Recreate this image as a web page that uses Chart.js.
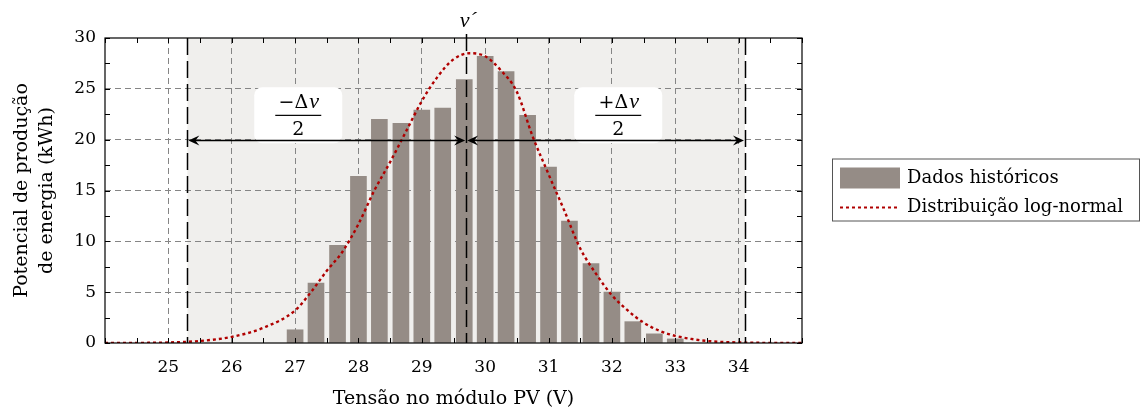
<!DOCTYPE html>
<html>
<head>
<meta charset="utf-8">
<script src="https://cdn.jsdelivr.net/npm/chart.js@4.4.1/dist/chart.umd.min.js"></script>
<style>
html, body { margin: 0; padding: 0; background: #fff; }
</style>
</head>
<body>
<canvas id="chart" width="1140" height="410"></canvas>
<script>
// Historical data (bars)
const barVolts = [27.0, 27.33, 27.67, 28.0, 28.33, 28.67, 29.0, 29.33, 29.67, 30.0,
                  30.33, 30.67, 31.0, 31.33, 31.67, 32.0, 32.33, 32.67, 33.0];
const barEnergy = [1.3, 5.9, 9.6, 16.4, 22.0, 21.6, 22.9, 23.1, 25.9, 28.2,
                   26.7, 22.4, 17.3, 12.0, 7.8, 5.0, 2.1, 0.9, 0.4];

// Log-normal fit (dotted curve)
const curveVolts = [24, 24.5, 25, 25.5, 26, 26.5, 27, 27.25, 27.5, 27.75, 28, 28.25,
                    28.5, 28.75, 29, 29.25, 29.5, 29.75, 30, 30.25, 30.5, 30.75, 31,
                    31.25, 31.5, 31.75, 32, 32.25, 32.5, 32.75, 33, 33.25, 33.5, 34, 34.5, 35];
const curveEnergy = [0, 0.01, 0.05, 0.2, 0.6, 1.5, 3.2, 5.0, 7.1, 9.0, 11.7, 15.0,
                     17.8, 20.8, 23.8, 26.2, 27.9, 28.5, 28.2, 26.8, 24.7, 20.3, 16.6,
                     13.0, 9.3, 6.8, 4.7, 3.2, 2.0, 1.2, 0.7, 0.4, 0.2, 0.05, 0.01, 0];

// v' - dv/2, v', v' + dv/2
const markerVolts = [25.3, 29.7, 34.1];
const arrowLevel = 20;
const fractionLabels = [{ sign: '\u2212', volt: 27.05 }, { sign: '+', volt: 32.1 }];
const labelLevel = 22.4;

const legendNames = ['Dados históricos', 'Distribuição log-normal'];
const xTitle = 'Tensão no módulo PV (V)';
const yTitle = ['Potencial de produção', 'de energia (kWh)'];

const FONT = "'DejaVu Serif', 'Liberation Serif', serif";
const MATH = "'Liberation Serif', serif";
const barColor = '#958c86';
const curveColor = '#b00000';
const gridColor = '#858585';

function arrowHead(ctx, tipX, y, dir) {
    ctx.beginPath();
    ctx.moveTo(tipX, y);
    ctx.lineTo(tipX - dir * 11, y - 5);
    ctx.lineTo(tipX - dir * 7, y);
    ctx.lineTo(tipX - dir * 11, y + 5);
    ctx.closePath();
    ctx.fill();
}

const overlay = {
    id: 'overlay',
    beforeDraw(chart) {
        const { ctx, chartArea: a, scales: { x } } = chart;
        const x0 = x.getPixelForValue(markerVolts[0]);
        const x1 = x.getPixelForValue(markerVolts[2]);
        ctx.save();
        ctx.fillStyle = '#f0efed';
        ctx.fillRect(x0, a.top, x1 - x0, a.bottom - a.top);
        ctx.restore();
    },
    afterDatasetsDraw(chart) {
        const { ctx, chartArea: a, scales: { x, y } } = chart;
        ctx.save();

        // fraction labels in white boxes
        fractionLabels.forEach(l => {
            const cx = x.getPixelForValue(l.volt);
            const cy = y.getPixelForValue(labelLevel);
            ctx.fillStyle = '#fff';
            ctx.beginPath();
            ctx.roundRect(cx - 44, cy - 28, 88, 56, 8);
            ctx.fill();
            ctx.fillStyle = '#000';
            ctx.textBaseline = 'alphabetic';
            ctx.textAlign = 'left';
            ctx.font = '19px ' + FONT;
            const head = l.sign + '\u0394';
            const wHead = ctx.measureText(head).width;
            ctx.font = 'italic 22px ' + MATH;
            const wV = ctx.measureText('v').width;
            const left = cx - (wHead + wV) / 2;
            ctx.font = '19px ' + FONT;
            ctx.fillText(head, left, cy - 7);
            ctx.font = 'italic 22px ' + MATH;
            ctx.fillText('v', left + wHead + 1, cy - 7);
            ctx.fillRect(cx - 23, cy - 0.5, 46, 1.2);
            ctx.font = '19px ' + FONT;
            ctx.textAlign = 'center';
            ctx.fillText('2', cx, cy + 20);
        });

        // vertical long-dashed markers
        ctx.strokeStyle = '#000';
        ctx.lineWidth = 1.5;
        ctx.setLineDash([17, 6]);
        markerVolts.forEach((v, i) => {
            const px = Math.round(x.getPixelForValue(v)) + 0.5;
            ctx.beginPath();
            ctx.moveTo(px, i === 1 ? a.top - 4 : a.top);
            ctx.lineTo(px, a.bottom);
            ctx.stroke();
        });
        ctx.setLineDash([]);

        // double arrows
        const ay = Math.round(y.getPixelForValue(arrowLevel)) + 0.5;
        ctx.fillStyle = '#000';
        ctx.lineWidth = 1.3;
        for (let i = 0; i < 2; i++) {
            const p0 = x.getPixelForValue(markerVolts[i]) + 1;
            const p1 = x.getPixelForValue(markerVolts[i + 1]) - 1;
            ctx.beginPath();
            ctx.moveTo(p0 + 6, ay);
            ctx.lineTo(p1 - 6, ay);
            ctx.stroke();
            arrowHead(ctx, p0, ay, -1);
            arrowHead(ctx, p1, ay, 1);
        }

        // v' label above the central marker
        ctx.font = 'italic 22px ' + MATH;
        ctx.textAlign = 'center';
        ctx.textBaseline = 'alphabetic';
        ctx.fillText('v\u00b4', x.getPixelForValue(markerVolts[1]) + 2, a.top - 11);

        // frame
        ctx.strokeStyle = '#000';
        ctx.lineWidth = 1.2;
        ctx.strokeRect(a.left, a.top, a.right - a.left, a.bottom - a.top);

        // inward tick marks on all four sides
        ctx.lineWidth = 1;
        ctx.beginPath();
        x.ticks.forEach(t => {
            const px = Math.round(x.getPixelForValue(t.value)) + 0.5;
            ctx.moveTo(px, a.bottom); ctx.lineTo(px, a.bottom - 5);
            ctx.moveTo(px, a.top); ctx.lineTo(px, a.top + 5);
        });
        y.ticks.forEach(t => {
            const py = Math.round(y.getPixelForValue(t.value)) + 0.5;
            ctx.moveTo(a.left, py); ctx.lineTo(a.left + 5, py);
            ctx.moveTo(a.right, py); ctx.lineTo(a.right - 5, py);
        });
        ctx.stroke();

        // legend
        const lx = a.right + 30, ly = (a.top + a.bottom) / 2 - 32;
        ctx.strokeStyle = '#555';
        ctx.lineWidth = 1;
        ctx.strokeRect(lx + 0.5, ly + 0.5, 307, 62);
        ctx.fillStyle = barColor;
        ctx.fillRect(lx + 8, ly + 9, 60, 21);
        ctx.strokeStyle = curveColor;
        ctx.lineWidth = 2.2;
        ctx.setLineDash([3, 3]);
        ctx.beginPath();
        ctx.moveTo(lx + 8, ly + 49);
        ctx.lineTo(lx + 68, ly + 49);
        ctx.stroke();
        ctx.setLineDash([]);
        ctx.fillStyle = '#000';
        ctx.font = '18px ' + FONT;
        ctx.textAlign = 'left';
        ctx.textBaseline = 'middle';
        ctx.fillText(legendNames[0], lx + 75, ly + 20);
        ctx.fillText(legendNames[1], lx + 75, ly + 49);
        ctx.restore();
    }
};

const ctx = document.getElementById('chart').getContext('2d');
new Chart(ctx, {
    type: 'bar',
    data: {
        datasets: [
            {
                type: 'line',
                label: legendNames[1],
                data: curveVolts.map((v, i) => ({ x: v, y: curveEnergy[i] })),
                borderColor: curveColor,
                borderWidth: 2.4,
                borderDash: [3, 3],
                pointRadius: 0,
                cubicInterpolationMode: 'monotone',
                fill: false,
                order: 0
            },
            {
                type: 'bar',
                label: legendNames[0],
                data: barVolts.map((v, i) => ({ x: v, y: barEnergy[i] })),
                backgroundColor: barColor,
                barThickness: 16,
                order: 1
            }
        ]
    },
    options: {
        responsive: false,
        animation: false,
        layout: { padding: { top: 38, right: 338, bottom: 0, left: 0 } },
        plugins: {
            legend: { display: false },
            tooltip: { enabled: false }
        },
        scales: {
            x: {
                type: 'linear',
                min: 24,
                max: 35,
                offset: false,
                afterFit: s => { s.height = 67; },
                ticks: {
                    stepSize: 0.5,
                    autoSkip: false,
                    maxRotation: 0,
                    padding: 14,
                    color: '#000',
                    font: { family: FONT, size: 17 },
                    callback: v => (Number.isInteger(v) && v >= 25 && v <= 34) ? v : ''
                },
                grid: {
                    offset: false,
                    drawTicks: false,
                    lineWidth: 1,
                    color: c => (c.tick && Number.isInteger(c.tick.value) && c.tick.value >= 25 && c.tick.value <= 34) ? gridColor : 'rgba(0,0,0,0)'
                },
                border: { display: false, dash: [6, 4] },
                title: {
                    display: true,
                    text: xTitle,
                    color: '#000',
                    font: { family: FONT, size: 19 },
                    padding: { top: 2, bottom: 0 }
                }
            },
            y: {
                min: 0,
                max: 30,
                afterFit: s => { s.width = 105; },
                ticks: {
                    stepSize: 2.5,
                    autoSkip: false,
                    padding: 9,
                    color: '#000',
                    font: { family: FONT, size: 17 },
                    callback: v => (v % 5 === 0) ? v : ''
                },
                grid: {
                    drawTicks: false,
                    lineWidth: 1,
                    color: c => (c.tick && c.tick.value % 5 === 0 && c.tick.value > 0 && c.tick.value < 30) ? gridColor : 'rgba(0,0,0,0)'
                },
                border: { display: false, dash: [6, 4] },
                title: {
                    display: true,
                    text: yTitle,
                    color: '#000',
                    font: { family: FONT, size: 19, lineHeight: 1.3 },
                    padding: { top: 10, bottom: 0 }
                }
            }
        }
    },
    plugins: [overlay]
});
</script>
</body>
</html>
